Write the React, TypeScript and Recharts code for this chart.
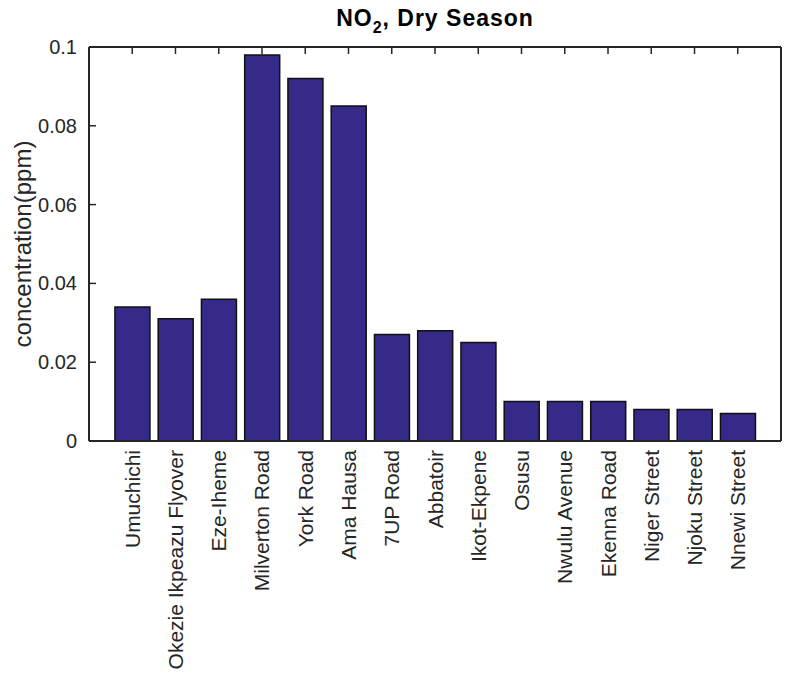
import { BarChart, Bar, XAxis, YAxis } from 'recharts';

// NO2 concentration per site, dry season (ppm)
const sites = [
  'Umuchichi',
  'Okezie Ikpeazu Flyover',
  'Eze-Iheme',
  'Milverton Road',
  'York Road',
  'Ama Hausa',
  '7UP Road',
  'Abbatoir',
  'Ikot-Ekpene',
  'Osusu',
  'Nwulu Avenue',
  'Ekenna Road',
  'Niger Street',
  'Njoku Street',
  'Nnewi Street',
];
const no2 = [
  0.034, 0.031, 0.036, 0.098, 0.092, 0.085, 0.027, 0.028, 0.025, 0.01, 0.01,
  0.01, 0.008, 0.008, 0.007,
];
const yTicks = [0, 0.02, 0.04, 0.06, 0.08, 0.1];

const data = sites.map((site, i) => ({ site, no2: no2[i] }));

const FONT = '"Liberation Sans", Arial, Helvetica, sans-serif';
const INK = '#262626';
const BAR_FILL = '#352a87';
const TICK_LEN = 7;

// rotated category label under each bar
function SiteTick(props: any) {
  const { x, y, payload } = props;
  return (
    <text
      x={x}
      y={y}
      transform={`rotate(-90, ${x}, ${y})`}
      textAnchor="end"
      dominantBaseline="central"
      fill={INK}
      fontSize={21}
      fontFamily={FONT}
    >
      {payload.value}
    </text>
  );
}

// MATLAB-style inward tick mark, drawn from the axis position the library hands over
const inwardTick = (dx: number, dy: number) => (p: any) => (
  <line
    x1={p.x}
    y1={p.y}
    x2={p.x + dx * TICK_LEN}
    y2={p.y + dy * TICK_LEN}
    stroke={INK}
    strokeWidth={1.5}
  />
);

// left axis: value label outside + inward tick mark
function ValueTick(props: any) {
  const { x, y, payload } = props;
  return (
    <g>
      <line x1={x} y1={y} x2={x + TICK_LEN} y2={y} stroke={INK} strokeWidth={1.5} />
      <text
        x={x - 12}
        y={y}
        textAnchor="end"
        dominantBaseline="central"
        fill={INK}
        fontSize={20}
        fontFamily={FONT}
      >
        {String(payload.value)}
      </text>
    </g>
  );
}

export default function App() {
  const pad = { left: 21.6, right: 21.6 };
  const axisLine = { stroke: INK, strokeWidth: 2 };

  return (
    <div style={{ position: 'absolute', left: 0, top: 0, width: 785, height: 676 }}>
      <div
        style={{
          position: 'absolute',
          left: 89,
          top: 7,
          width: 692,
          textAlign: 'center',
          fontFamily: FONT,
          fontWeight: 'bold',
          fontSize: 23,
          letterSpacing: 1,
          lineHeight: '23px',
          color: '#000',
        }}
      >
        NO
        <span style={{ fontSize: 16, position: 'relative', top: 7 }}>2</span>, Dry Season
      </div>
      <BarChart
        width={785}
        height={676}
        data={data}
        margin={{ top: 46, right: 3, bottom: 0, left: 0 }}
        barCategoryGap="10%"
      >
        <XAxis
          dataKey="site"
          height={235}
          padding={pad}
          interval={0}
          tickLine={false}
          tickSize={0}
          tickMargin={9}
          axisLine={axisLine}
          tick={<SiteTick />}
        />
        {/* box top edge with inward ticks */}
        <XAxis
          xAxisId="top"
          orientation="top"
          dataKey="site"
          height={1}
          padding={pad}
          interval={0}
          tickSize={0}
          tickMargin={0}
          tickLine={false}
          axisLine={axisLine}
          tick={inwardTick(0, 1)}
        />
        <YAxis
          width={89}
          domain={[0, 0.1]}
          ticks={yTicks}
          interval={0}
          tickSize={0}
          tickMargin={0}
          tickLine={false}
          axisLine={axisLine}
          tick={<ValueTick />}
          label={{
            value: 'concentration(ppm)',
            angle: -90,
            position: 'insideLeft',
            offset: 22,
            style: { textAnchor: 'middle', fill: INK, fontSize: 24, fontFamily: FONT },
          }}
        />
        {/* box right edge with inward ticks */}
        <YAxis
          yAxisId="right"
          orientation="right"
          width={1}
          domain={[0, 0.1]}
          ticks={yTicks}
          interval={0}
          tickSize={0}
          tickMargin={0}
          tickLine={false}
          axisLine={axisLine}
          tick={inwardTick(-1, 0)}
        />
        <Bar
          dataKey="no2"
          fill={BAR_FILL}
          stroke="#111"
          strokeWidth={1.5}
          isAnimationActive={false}
        />
      </BarChart>
    </div>
  );
}
